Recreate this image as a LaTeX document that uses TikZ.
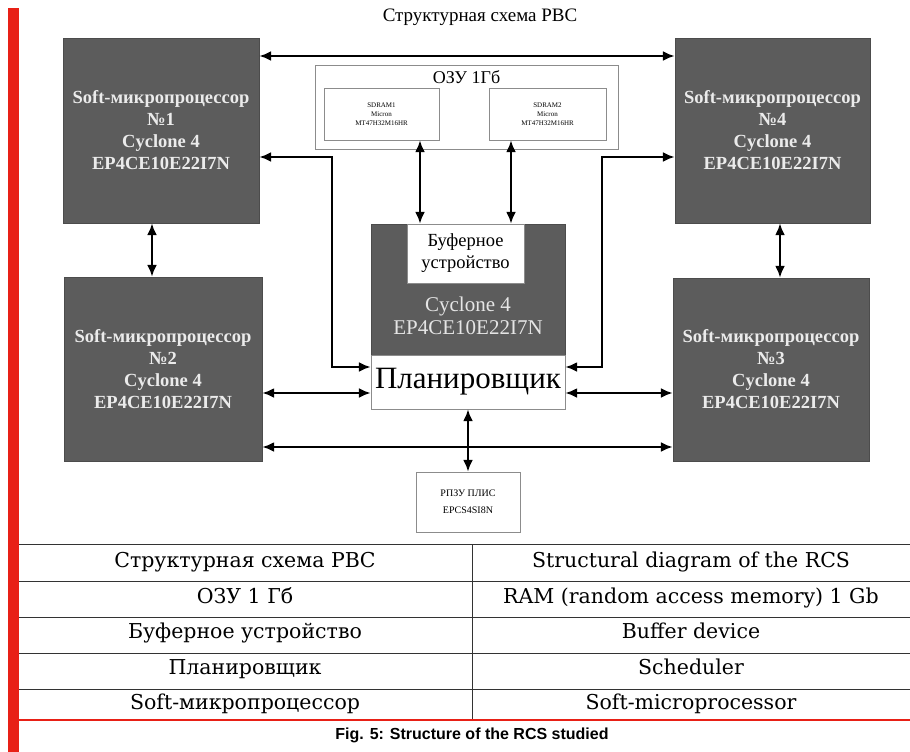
\documentclass[tikz,border=0pt]{standalone}
\usepackage{fontspec}
\setmainfont{Liberation Serif}
\newfontfamily\tablefont{DejaVu Serif}
\newfontfamily\capfont{Liberation Sans}
\usetikzlibrary{arrows.meta, positioning, calc}

\definecolor{cpugray}{RGB}{92,92,92}
\definecolor{redbar}{RGB}{232,32,22}

\begin{document}
\begin{tikzpicture}[
    x=1pt, y=-1pt,
    cpu/.style={draw=black!70, fill=cpugray, text=white!92!black, align=center,
                font=\fontsize{18.5}{22}\selectfont\bfseries, inner sep=0pt},
    white box/.style={draw=black!45, fill=white, align=center, inner sep=0pt},
    mem/.style={white box, font=\fontsize{7}{9}\selectfont},
    flow2/.style={{Latex[length=12pt,width=10pt]}-{Latex[length=12pt,width=10pt]}, line width=2.8pt},
    cell/.style={font=\tablefont\fontsize{20.5}{22}\selectfont, text height=15pt, text depth=5pt},
    rule/.style={line width=0.8pt, black!80},
]
    \useasboundingbox (0,0) rectangle (910,752);

    % --- Title ---
    \node[font=\fontsize{19}{21}\selectfont] (title) at (480,17) {Структурная схема РВС};

    % --- Soft processors ---
    \node[cpu, minimum width=196, minimum height=185] (cpuA) at (161,130.5)
        {Soft-микропроцессор\\№1\\Cyclone 4\\EP4CE10E22I7N};
    \node[cpu, minimum width=195, minimum height=185] (cpuD) at (772.5,130.5)
        {Soft-микропроцессор\\№4\\Cyclone 4\\EP4CE10E22I7N};
    \node[cpu, minimum width=198, minimum height=184] (cpuB) at (163,369)
        {Soft-микропроцессор\\№2\\Cyclone 4\\EP4CE10E22I7N};
    \node[cpu, minimum width=196, minimum height=183] (cpuC) at (771,369.5)
        {Soft-микропроцессор\\№3\\Cyclone 4\\EP4CE10E22I7N};

    % --- RAM with two SDRAM chips ---
    \node[white box, minimum width=303, minimum height=84,
          label={[below=2pt, font=\fontsize{18}{20}\selectfont]north:ОЗУ 1Гб}] (ram) at (466.5,107) {};
    \node[mem, minimum width=115, minimum height=52] (sdramA) at (381.5,114)
        {SDRAM1\\Micron\\MT47H32M16HR};
    \node[mem, minimum width=117, minimum height=52] (sdramB) at (547.5,114)
        {SDRAM2\\Micron\\MT47H32M16HR};

    % --- Central FPGA: buffer + scheduler ---
    \node[cpu, minimum width=194, minimum height=131] (fpga) at (468,289.5) {};
    \node[white box, minimum width=117, minimum height=59,
          font=\fontsize{18.5}{22}\selectfont] (buffer) at (465.5,253.5) {Буферное\\устройство};
    \node[text=white!90!black, align=center, font=\fontsize{21}{23}\selectfont] (fpgalbl) at (468,316)
        {Cyclone 4\\EP4CE10E22I7N};
    \node[white box, minimum width=194, minimum height=54,
          font=\fontsize{31}{33}\selectfont] (sched) at (468,382) {Планировщик};

    % --- Configuration ROM ---
    \node[white box, minimum width=104, minimum height=60,
          font=\fontsize{10}{17}\selectfont] (rom) at (468,502) {РПЗУ ПЛИС\\EPCS4SI8N};

    % --- Lanes for the buses ---
    \coordinate (laneTop) at (0,56);
    \coordinate (bendL)   at (332,157);
    \coordinate (bendR)   at (602,157);
    \coordinate (schA)    at (0,367);
    \coordinate (schB)    at (0,393);
    \coordinate (busBot)  at (0,447);
    \coordinate (linkL)   at (152,0);
    \coordinate (linkR)   at (780,0);
    \coordinate (memA)    at (420,0);
    \coordinate (memB)    at (511,0);

    % --- Connections between processors ---
    \draw[flow2] (cpuA.east |- laneTop) -- (cpuD.west |- laneTop);
    \draw[flow2] (cpuA.south -| linkL) -- (cpuB.north -| linkL);
    \draw[flow2] (cpuD.south -| linkR) -- (cpuC.north -| linkR);
    \draw[flow2] (cpuB.east |- busBot) -- (cpuC.west |- busBot);

    % --- Processors to scheduler ---
    \draw[flow2] (cpuA.east |- bendL) -| (bendL |- schA) -- (sched.west |- schA);
    \draw[flow2] (cpuD.west |- bendR) -| (bendR |- schA) -- (sched.east |- schA);
    \draw[flow2] (cpuB.east |- schB) -- (sched.west |- schB);
    \draw[flow2] (cpuC.west |- schB) -- (sched.east |- schB);

    % --- Memory and ROM ---
    \draw[flow2] (sdramA.south -| memA) -- (buffer.north -| memA);
    \draw[flow2] (sdramB.south -| memB) -- (buffer.north -| memB);
    \draw[flow2] (sched.south) -- (rom.north);

    % --- Glossary table ---
    \foreach \y in {544,581,617,653,689}
        \draw[rule] (19,\y) -- (910,\y);
    \draw[rule] (472,544) -- (472,720);
    \foreach \ru/\en [count=\i from 0] in {
        Структурная схема РВС/Structural diagram of the RCS,
        ОЗУ 1 Гб/RAM (random access memory) 1 Gb,
        Буферное устройство/Buffer device,
        Планировщик/Scheduler,
        Soft-микропроцессор/Soft-microprocessor}
    {
        \node[cell] (ru\i) at (245,{562.5+35.5*\i}) {\ru};
        \node[cell] (en\i) at (691,{562.5+35.5*\i}) {\en};
    }

    % --- Red frame and caption ---
    \fill[redbar] (8,8) rectangle (19,752);
    \draw[redbar, line width=2pt] (19,720) -- (910,720);
    \node[font=\capfont\bfseries\fontsize{16}{18}\selectfont] (caption) at (472,735)
        {Fig. 5: Structure of the RCS studied};
\end{tikzpicture}
\end{document}
